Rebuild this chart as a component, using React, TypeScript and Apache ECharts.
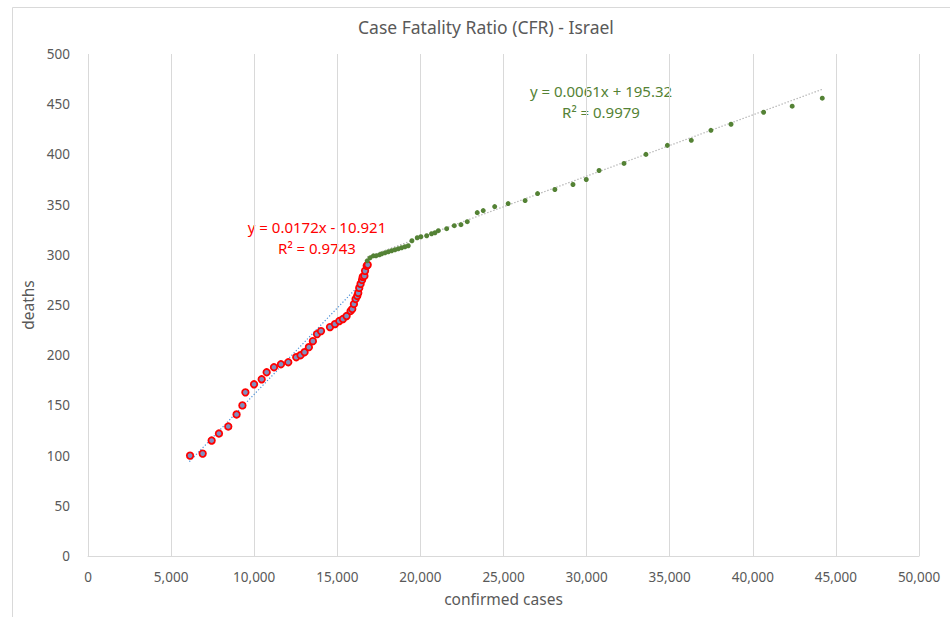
import React, { useEffect, useRef } from "react";
import * as echarts from "echarts";

const redCases = [6140, 6900, 7440, 7880, 8440, 8940, 9290, 9470, 9990, 10450, 10750, 11190, 11610, 12050, 12530, 12790, 13030, 13290, 13530, 13780, 14020, 14560, 14860, 15120, 15340, 15560, 15800, 15900, 16000, 16100, 16200, 16260, 16320, 16400, 16490, 16530, 16630, 16670, 16770, 16830];
const redDeaths = [100, 102, 115, 122, 129, 141, 150, 163, 171, 176, 183, 188, 191, 193, 198, 200, 203, 208, 214, 221, 224, 228, 231, 234, 236, 239, 244, 246, 251, 256, 259, 262, 267, 271, 275, 278, 279, 284, 289, 290];

const greenCases = [16800, 16970, 17170, 17330, 17530, 17670, 17870, 18070, 18270, 18470, 18670, 18870, 19070, 19270, 19490, 19810, 20030, 20380, 20670, 20880, 21080, 21580, 22040, 22440, 22820, 23420, 23780, 24470, 25280, 26300, 27050, 28090, 29180, 29980, 30750, 32250, 33570, 34860, 36300, 37480, 38690, 40650, 42370, 44180];
const greenDeaths = [294, 297, 299, 299, 300, 301, 302, 303, 304, 305, 306, 307, 308, 309, 314, 317, 318, 319, 321, 322, 324, 326, 329, 330, 333, 342, 344, 348, 351, 354, 361, 365, 370, 375, 384, 391, 400, 409, 414, 424, 430, 442, 448, 456];

// trendline endpoints (cases, deaths)
const redTrend = [[6100, 94], [16830, 278.5]];
const greenTrend = [[16800, 297.8], [44200, 465]];

const redEquation = ["y = 0.0172x - 10.921", "R² = 0.9743"];
const greenEquation = ["y = 0.0061x + 195.32", "R² = 0.9979"];

const title = "Case Fatality Ratio (CFR) - Israel";
const xName = "confirmed cases";
const yName = "deaths";

const FONT = "'Noto Sans', sans-serif";

export default function App() {
  const ref = useRef<HTMLDivElement>(null);
  useEffect(() => {
    document.body.style.margin = "0";
    const chart = echarts.init(ref.current!, null, { renderer: "svg" });
    const zip = (a: number[], b: number[]) => a.map((v, i) => [v, b[i]]);
    chart.setOption({
      animation: false,
      backgroundColor: "#ffffff",
      textStyle: { fontFamily: FONT },
      title: {
        text: title,
        left: 353,
        top: 13,
        textStyle: { fontFamily: FONT, fontSize: 17.5, fontWeight: "normal", color: "#595959" },
      },
      grid: { left: 88, right: 31, top: 54, bottom: 61, containLabel: false },
      xAxis: {
        type: "value",
        min: 0,
        max: 50000,
        interval: 5000,
        name: xName,
        nameLocation: "middle",
        nameGap: 35,
        nameTextStyle: { fontFamily: FONT, fontSize: 15.5, color: "#595959" },
        axisLine: { show: true, lineStyle: { color: "#d9d9d9" } },
        axisTick: { show: false },
        axisLabel: {
          margin: 14,
          fontFamily: FONT,
          fontSize: 13.5,
          color: "#595959",
          formatter: (v: number) => v.toLocaleString("en-US"),
        },
        splitLine: { show: true, lineStyle: { color: "#d9d9d9" } },
      },
      yAxis: {
        type: "value",
        min: 0,
        max: 500,
        interval: 50,
        name: yName,
        nameLocation: "middle",
        nameGap: 52,
        nameRotate: 90,
        nameTextStyle: { fontFamily: FONT, fontSize: 15.5, color: "#595959" },
        axisLine: { show: false },
        axisTick: { show: false },
        axisLabel: { margin: 18, fontFamily: FONT, fontSize: 13.5, color: "#595959" },
        splitLine: { show: false },
      },
      series: [
        {
          type: "line",
          data: redTrend,
          symbol: "none",
          lineStyle: { color: "#4a90d9", width: 1.2, type: [1.2, 2] },
          z: 1,
        },
        {
          type: "line",
          data: greenTrend,
          symbol: "none",
          lineStyle: { color: "#a5a5a5", width: 1.2, type: [1.2, 2] },
          z: 1,
        },
        {
          type: "scatter",
          data: zip(redCases, redDeaths),
          symbol: "circle",
          symbolSize: 6.5,
          itemStyle: { color: "#7f8fbf", borderColor: "#ff0000", borderWidth: 1.8, opacity: 1 },
          z: 3,
        },
        {
          type: "scatter",
          data: zip(greenCases, greenDeaths),
          symbol: "circle",
          symbolSize: 5,
          itemStyle: { color: "#548235", opacity: 1 },
          z: 4,
        },
      ],
      graphic: [
        {
          type: "rect",
          shape: { x: 12.5, y: 7.5, width: 1000, height: 1000 },
          style: { fill: "none", stroke: "#d9d9d9", lineWidth: 1 },
          silent: true,
        },
        {
          type: "text",
          x: 317,
          y: 227,
          style: { text: redEquation[0], fill: "#ff0000", font: `15px ${FONT}`, align: "center", verticalAlign: "middle" },
        },
        {
          type: "text",
          x: 317,
          y: 248,
          style: { text: redEquation[1], fill: "#ff0000", font: `15px ${FONT}`, align: "center", verticalAlign: "middle" },
        },
        {
          type: "text",
          x: 601,
          y: 91,
          style: { text: greenEquation[0], fill: "#548235", font: `15px ${FONT}`, align: "center", verticalAlign: "middle" },
        },
        {
          type: "text",
          x: 601,
          y: 112,
          style: { text: greenEquation[1], fill: "#548235", font: `15px ${FONT}`, align: "center", verticalAlign: "middle" },
        },
      ],
    });
    return () => chart.dispose();
  }, []);
  return <div ref={ref} style={{ width: 950, height: 617 }} />;
}
